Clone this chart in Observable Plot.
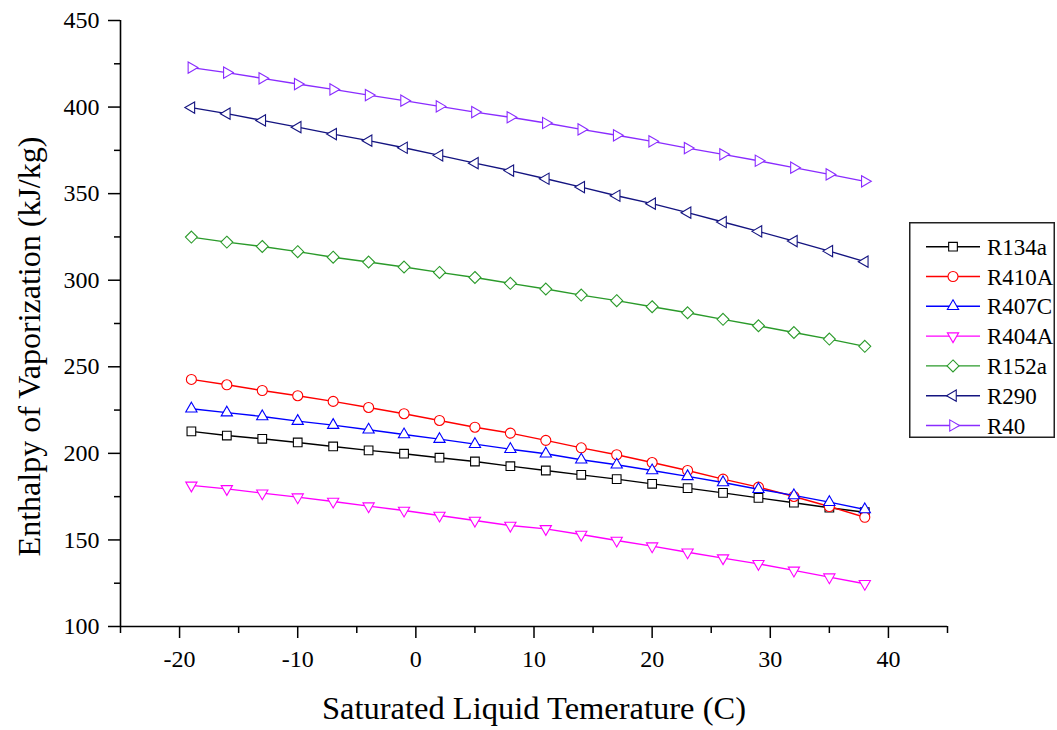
<!DOCTYPE html>
<html><head><meta charset="utf-8">
<script src="https://cdn.jsdelivr.net/npm/d3@7"></script>
<script src="https://cdn.jsdelivr.net/npm/@observablehq/plot@0.6"></script>
<style>
html,body{margin:0;padding:0;background:#fff;}
#wrap{position:relative;width:1057px;height:730px;font-family:"Liberation Serif","Times New Roman",serif;}
#legend{position:absolute;left:909px;top:222px;}
</style></head><body><div id="wrap"></div>
<script>
// ---- data ----
const temps = [-19,-16,-13,-10,-7,-4,-1,2,5,8,11,14,17,20,23,26,29,32,35,38];
const seriesNames = ["R134a","R410A","R407C","R404A","R152a","R290","R40"];
const R134a = [212.7,210.3,208.4,206.3,204.0,201.7,199.8,197.5,195.3,192.6,190.1,187.6,185.1,182.4,179.9,177.2,174.3,171.5,168.6,166.0];
const R410A = [242.7,239.6,236.3,233.3,230.0,226.5,222.9,219.0,215.1,211.7,207.5,203.2,199.2,194.7,190.1,185.1,180.5,175.1,169.3,163.1];
const R407C = [225.8,223.5,221.3,218.6,216.3,213.6,210.9,208.2,205.3,202.4,199.8,196.3,193.4,190.1,186.7,183.2,179.3,175.7,171.8,167.6];
const R404A = [181.5,179.5,177.0,174.7,172.2,169.5,167.0,164.1,161.2,158.3,156.4,153.1,149.7,146.4,142.9,139.5,136.2,132.4,128.5,124.7];
const R152a = [324.9,322.0,319.5,316.5,313.3,310.5,307.6,304.5,301.6,298.2,294.9,291.4,288.2,284.7,281.2,277.4,273.7,269.8,266.0,261.8];
const R290  = [399.7,396.2,392.3,388.4,384.4,380.6,376.5,372.1,367.6,363.3,358.6,353.8,348.8,344.2,339.0,333.6,328.2,322.6,316.8,310.7];
const R40   = [422.8,419.9,416.6,413.3,410.2,406.9,403.7,400.4,397.1,394.1,390.8,387.1,383.7,380.2,376.3,372.7,369.0,365.0,361.1,357.1];
const xMajorTicks = [-20,-10,0,10,20,30,40];
const xMinorTicks = [-25,-15,-5,5,15,25,35,45];
const yMajorTicks = [100,150,200,250,300,350,400,450];
const yMinorTicks = [125,175,225,275,325,375,425];
const xTitle = "Saturated Liquid Temerature (C)";
const yTitle = "Enthalpy of Vaporization (kJ/kg)";

// ---- styles ----
const FONT = "Liberation Serif";
const sqrt3 = Math.sqrt(3);
function tri(dir, k) {
  return {draw(ctx, size) {
    const y = -Math.sqrt(size * k / (sqrt3 * 3));
    const pts = [[0, y * 2], [-sqrt3 * y, -y], [sqrt3 * y, -y]];
    const tr = pts.map(([a, b]) => dir === "up" ? [a, b] : dir === "down" ? [a, -b] : dir === "left" ? [b, a] : [-b, a]);
    ctx.moveTo(tr[0][0], tr[0][1]); ctx.lineTo(tr[1][0], tr[1][1]); ctx.lineTo(tr[2][0], tr[2][1]); ctx.closePath();
  }};
}
const symSquare = {draw(ctx, size) { const h = Math.sqrt(size) / 2 * 0.98; ctx.rect(-h, -h, 2 * h, 2 * h); }};
const symCircle = {draw(ctx, size) { const r = Math.sqrt(size / Math.PI); ctx.moveTo(r, 0); ctx.arc(0, 0, r, 0, 2 * Math.PI); }};
const symDiamond = {draw(ctx, size) { const h = Math.sqrt(size / 2) * 0.95; ctx.moveTo(0, -h); ctx.lineTo(h, 0); ctx.lineTo(0, h); ctx.lineTo(-h, 0); ctx.closePath(); }};
const styles = {
  R134a: {color: "#000000", symbol: symSquare},
  R410A: {color: "#ff0000", symbol: symCircle},
  R407C: {color: "#0000ff", symbol: tri("up", 0.7)},
  R404A: {color: "#ff00ff", symbol: tri("down", 0.7)},
  R152a: {color: "#2a9a2a", symbol: symDiamond},
  R290:  {color: "#141480", symbol: tri("left", 0.7)},
  R40:   {color: "#8a2cff", symbol: tri("right", 0.7)}
};
const valuesByName = {R134a, R410A, R407C, R404A, R152a, R290, R40};

const seriesMarks = seriesNames.flatMap(name => {
  const data = temps.map((t, i) => ({t, v: valuesByName[name][i]}));
  const st = styles[name];
  return [
    Plot.line(data, {x: "t", y: "v", stroke: st.color, strokeWidth: 1.4}),
    Plot.dot(data, {x: "t", y: "v", symbol: st.symbol, r: 5, stroke: st.color, fill: "white", strokeWidth: 1.1})
  ];
});

const chart = Plot.plot({
  width: 1057, height: 730,
  marginLeft: 120, marginRight: 110, marginTop: 20, marginBottom: 104,
  style: {fontFamily: FONT, color: "black", background: "white", overflow: "visible"},
  x: {domain: [-25, 45], axis: null},
  y: {domain: [100, 450], axis: null},
  marks: [
    // tick marks (no labels)
    Plot.axisX(xMinorTicks, {tickSize: 7, tickFormat: () => "", strokeWidth: 1.5, label: null}),
    Plot.axisX(xMajorTicks, {tickSize: 12, tickFormat: () => "", strokeWidth: 1.5, label: null}),
    Plot.axisY(yMinorTicks, {tickSize: 6, tickFormat: () => "", strokeWidth: 1.5, label: null}),
    Plot.axisY(yMajorTicks, {tickSize: 12, tickFormat: () => "", strokeWidth: 1.5, label: null}),
    // tick labels as serif text marks positioned through the scales
    Plot.text(xMajorTicks, {x: d => d, text: d => String(d), frameAnchor: "bottom", dy: 33, lineAnchor: "middle", textAnchor: "middle", fontSize: 24, fontFamily: FONT, fill: "black"}),
    Plot.text(yMajorTicks, {y: d => d, text: d => String(d), frameAnchor: "left", dx: -21, lineAnchor: "middle", textAnchor: "end", fontSize: 24, fontFamily: FONT, fill: "black"}),
    Plot.ruleY([100], {strokeWidth: 1.6}),
    Plot.ruleX([-25], {strokeWidth: 1.6}),
    ...seriesMarks,
    Plot.text([xTitle], {text: d => d, frameAnchor: "bottom", dy: 82, fontSize: 32.5, fontFamily: FONT, lineAnchor: "middle", textAnchor: "middle", fill: "black"}),
    Plot.text([yTitle], {text: d => d, frameAnchor: "left", dx: -91, dy: 23, rotate: -90, fontSize: 32, fontFamily: FONT, lineAnchor: "middle", textAnchor: "middle", fill: "black"})
  ]
});
document.getElementById("wrap").appendChild(chart);

// ---- legend ----
const lw = 146, lh = 216;
const leg = d3.select("#wrap").append("svg").attr("id", "legend").attr("width", lw).attr("height", lh);
leg.append("rect").attr("x", 0.75).attr("y", 0.75).attr("width", lw - 1.5).attr("height", lh - 1.5)
  .attr("fill", "white").attr("stroke", "#222").attr("stroke-width", 1.5);
seriesNames.forEach((name, i) => {
  const st = styles[name];
  const cy = 24.7 + i * 29.8;
  const g = leg.append("g");
  g.append("line").attr("x1", 17).attr("x2", 71).attr("y1", cy).attr("y2", cy).attr("stroke", st.color).attr("stroke-width", 1.4);
  g.append("path").attr("transform", `translate(44,${cy})`).attr("d", d3.symbol(st.symbol, 78.5)())
    .attr("fill", "white").attr("stroke", st.color).attr("stroke-width", 1.1);
  g.append("text").attr("x", 78).attr("y", cy).attr("dy", "0.35em").attr("font-size", 23)
    .attr("font-family", FONT).text(name);
});
</script></body></html>
